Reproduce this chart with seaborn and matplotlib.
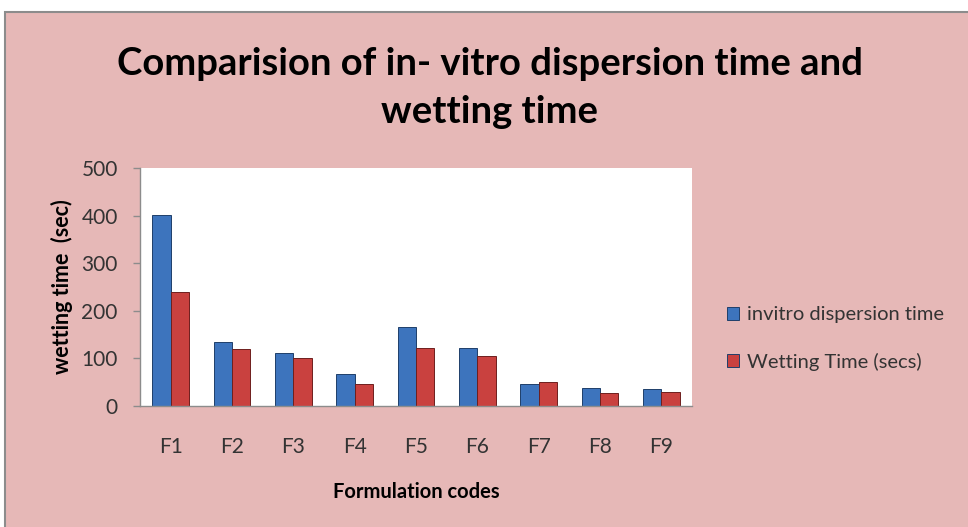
import numpy as np
import pandas as pd
import matplotlib
matplotlib.use('Agg')
import matplotlib.pyplot as plt
import matplotlib.patches as mpatches
import seaborn as sns

# 데이터
codes = ['F1', 'F2', 'F3', 'F4', 'F5', 'F6', 'F7', 'F8', 'F9']
dispersion_time = [402, 135, 112, 67, 166, 122, 47, 37, 35]
wetting_time = [240, 120, 100, 47, 122, 105, 50, 27, 30]
series_names = ['invitro dispersion time', 'Wetting Time (secs)']

BG = '#E6B8B7'
BLUE = '#3D74BD'
RED = '#C9413F'
TXT = '#333333'

df = pd.DataFrame({
    'code': codes * 2,
    'value': dispersion_time + wetting_time,
    'series': [series_names[0]] * len(codes) + [series_names[1]] * len(codes),
})

sns.set_theme(style='white')
plt.rcParams['font.family'] = ['Lato', 'DejaVu Sans']

fig = plt.figure(figsize=(9.68, 5.27), dpi=100, facecolor='white')
# 바깥 배경 박스
fig.patches.append(mpatches.Rectangle((5 / 968, -0.05), 1.1, 1.05 - 12 / 527,
                                      transform=fig.transFigure, facecolor=BG,
                                      edgecolor='#8c8c8c', linewidth=1.5, zorder=-10))

ax = fig.add_axes([140 / 968, 1 - 406 / 527, 552 / 968, 238 / 527])
ax.set_zorder(5)
ax.set_facecolor('white')

sns.barplot(data=df, x='code', y='value', hue='series', palette=[BLUE, RED],
            width=0.6, saturation=1, edgecolor='#1f3f6a', linewidth=0.7, ax=ax)
for bar in ax.patches[len(codes):2 * len(codes)]:
    bar.set_edgecolor('#6e1f1e')

ax.set_ylim(0, 500)
ax.set_xlim(-0.5, len(codes) - 0.5)
ax.set_yticks(range(0, 501, 100))
ax.set_xticks(range(len(codes)))
ax.set_xticks(np.arange(-0.5, len(codes), 1), minor=True)
ax.tick_params(axis='x', which='major', length=0, pad=22, labelsize=15, labelcolor=TXT)
ax.tick_params(axis='x', which='minor', length=6, width=1, color='#8c8c8c', direction='out')
ax.tick_params(axis='y', length=5, width=1, color='#8c8c8c', direction='out', pad=11,
               labelsize=15, labelcolor=TXT)
ax.tick_params(bottom=True, left=True)

for s in ['top', 'right']:
    ax.spines[s].set_visible(False)
for s in ['left', 'bottom']:
    ax.spines[s].set_color('#8c8c8c')
    ax.spines[s].set_linewidth(1)

ax.set_xlabel('Formulation codes', fontsize=14.5, fontweight='bold', labelpad=18, color='black')
ax.set_ylabel('wetting time  (sec)', fontsize=15.5, fontweight='bold', labelpad=6, color='black')

fig.text(0.506, 0.833, 'Comparision of in- vitro dispersion time and\nwetting time',
         ha='center', va='center', fontsize=27.5, fontweight='bold', linespacing=1.5,
         color='black')

leg = ax.legend(loc='center left', bbox_to_anchor=(1.03, 0.284), frameon=False,
                fontsize=14.5, handlelength=0.6, handleheight=0.6, handletextpad=0.4,
                labelspacing=1.45)
for t in leg.get_texts():
    t.set_color(TXT)

plt.savefig('out.png', dpi=100, facecolor=fig.get_facecolor())
